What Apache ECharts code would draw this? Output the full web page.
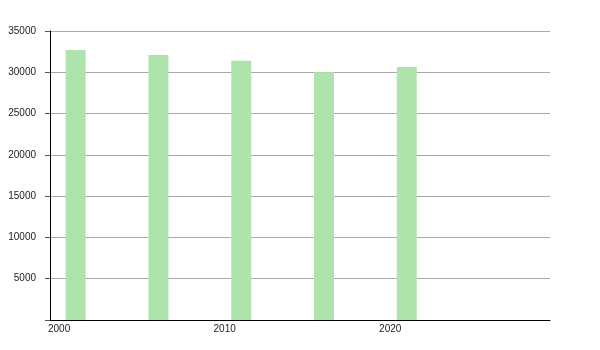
<!DOCTYPE html>
<html>
<head>
<meta charset="utf-8">
<script src="https://cdn.jsdelivr.net/npm/echarts@6/dist/echarts.min.js"></script>
<style>html,body{margin:0;padding:0;background:#fff}#c{width:600px;height:350px}</style>
</head>
<body>
<div id="c"></div>
<script>
const years = [2001, 2006, 2011, 2016, 2021];
const values = [32700, 32100, 31400, 30000, 30650];
const xTickLabels = [2000, 2010, 2020];

const chart = echarts.init(document.getElementById('c'), null, {renderer: 'canvas'});
chart.setOption({
  animation: false,
  grid: {left: 50, right: 50, top: 31, bottom: 30, containLabel: false},
  xAxis: {
    type: 'value', min: 1999.45, max: 2029.65,
    splitLine: {show: false},
    axisLine: {show: true, onZero: false, lineStyle: {color: '#000', width: 1}},
    axisTick: {show: false},
    axisLabel: {customValues: xTickLabels, color: '#222', fontSize: 10, fontFamily: 'Liberation Sans, Arial, sans-serif', margin: 4,
      formatter: v => String(v)}
  },
  yAxis: {
    type: 'value', min: 0, max: 35000, interval: 5000,
    axisLine: {show: true, lineStyle: {color: '#000', width: 1}},
    axisTick: {show: true, length: 5, lineStyle: {color: '#555'}},
    splitLine: {show: true, lineStyle: {color: '#aaa', width: 1}},
    axisLabel: {color: '#222', fontSize: 10, fontFamily: 'Liberation Sans, Arial, sans-serif', margin: 14,
      formatter: v => v === 0 ? '' : String(v)}
  },
  series: [{
    type: 'bar',
    data: years.map((y, i) => [y, values[i]]),
    barWidth: 20,
    itemStyle: {color: '#afe3ac'}
  }]
});
</script>
</body>
</html>
